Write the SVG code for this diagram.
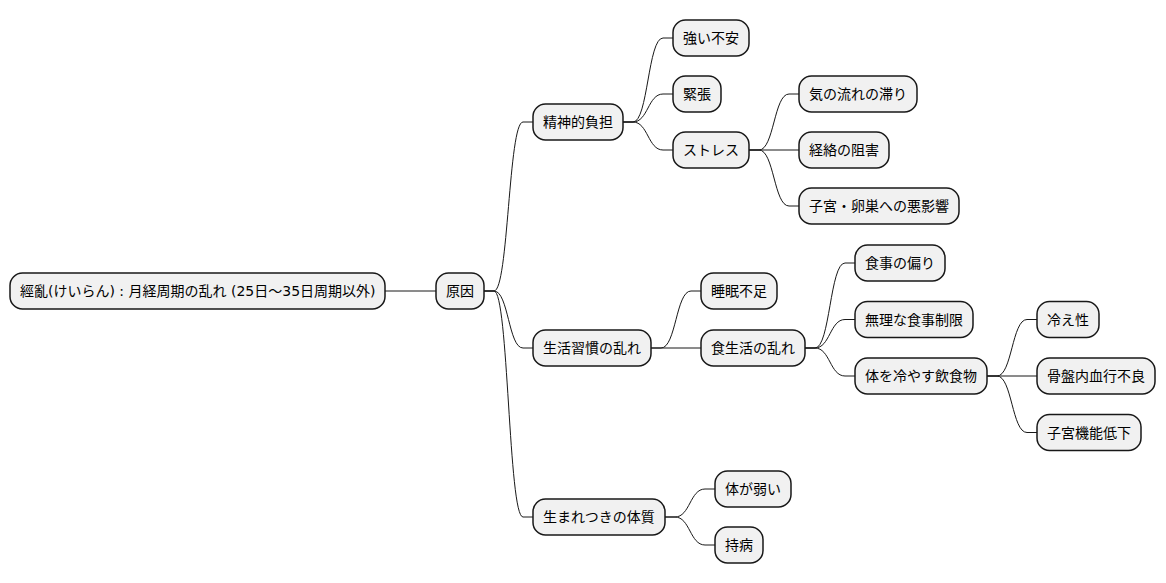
<svg xmlns="http://www.w3.org/2000/svg" width="1166" height="583" viewBox="0 0 1166 583">
<style>
.n rect{fill:#F1F1F1;stroke:#181818;stroke-width:1.5}
.n text{font-family:"DejaVu Sans","Noto Sans CJK JP",sans-serif;font-size:14px;fill:#000}
.c path{fill:none;stroke:#181818;stroke-width:1}
</style>
<rect width="1166" height="583" fill="#FFFFFF"/>
<g class="c" id="connectors">
<path d="M385,291 L436,291"/>
<path d="M484,291 L494,291 C508.5,291 508.5,122 523,122 L533,122"/>
<path d="M484,291 L494,291 C508.5,291 508.5,348 523,348 L533,348"/>
<path d="M484,291 L494,291 C508.5,291 508.5,517 523,517 L533,517"/>
<path d="M623,122 L633,122 C648,122 648,38 663,38 L673,38"/>
<path d="M623,122 L633,122 C648,122 648,94 663,94 L673,94"/>
<path d="M623,122 L633,122 C648,122 648,150 663,150 L673,150"/>
<path d="M749,150 L759,150 C774,150 774,94 789,94 L799,94"/>
<path d="M749,150 L799,150"/>
<path d="M749,150 L759,150 C774,150 774,206 789,206 L799,206"/>
<path d="M651,348 L661,348 C676,348 676,291 691,291 L701,291"/>
<path d="M651,348 L701,348"/>
<path d="M805,348 L815,348 C830,348 830,263 845,263 L855,263"/>
<path d="M805,348 L815,348 C830,348 830,319.5 845,319.5 L855,319.5"/>
<path d="M805,348 L815,348 C830,348 830,376 845,376 L855,376"/>
<path d="M987,376 L997,376 C1012,376 1012,319.5 1027,319.5 L1037,319.5"/>
<path d="M987,376 L1037,376"/>
<path d="M987,376 L997,376 C1012,376 1012,432.5 1027,432.5 L1037,432.5"/>
<path d="M665,517 L675,517 C690,517 690,489 705,489 L715,489"/>
<path d="M665,517 L675,517 C690,517 690,545 705,545 L715,545"/>
</g>
<g class="n" id="root"><rect x="10" y="273" width="375" height="36" rx="12.5"/><text x="20" y="296">經亂(けいらん) : 月経周期の乱れ (25日〜35日周期以外)</text></g>
<g class="n" id="cause"><rect x="436" y="273" width="48" height="36" rx="12.5"/><text x="446" y="296">原因</text></g>
<g class="n" id="mental"><rect x="533" y="104" width="90" height="36" rx="12.5"/><text x="543" y="127">精神的負担</text></g>
<g class="n" id="anxiety"><rect x="673" y="20" width="76" height="36" rx="12.5"/><text x="683" y="43">強い不安</text></g>
<g class="n" id="tension"><rect x="673" y="76" width="48" height="36" rx="12.5"/><text x="683" y="99">緊張</text></g>
<g class="n" id="stress"><rect x="673" y="132" width="76" height="36" rx="12.5"/><text x="683" y="155">ストレス</text></g>
<g class="n" id="qi"><rect x="799" y="76" width="118" height="36" rx="12.5"/><text x="809" y="99">気の流れの滞り</text></g>
<g class="n" id="meridian"><rect x="799" y="132" width="90" height="36" rx="12.5"/><text x="809" y="155">経絡の阻害</text></g>
<g class="n" id="uterus"><rect x="799" y="188" width="160" height="36" rx="12.5"/><text x="809" y="211">子宮・卵巣への悪影響</text></g>
<g class="n" id="lifestyle"><rect x="533" y="330" width="118" height="36" rx="12.5"/><text x="543" y="353">生活習慣の乱れ</text></g>
<g class="n" id="sleep"><rect x="701" y="273" width="76" height="36" rx="12.5"/><text x="711" y="296">睡眠不足</text></g>
<g class="n" id="diet"><rect x="701" y="330" width="104" height="36" rx="12.5"/><text x="711" y="353">食生活の乱れ</text></g>
<g class="n" id="bias"><rect x="855" y="245" width="90" height="36" rx="12.5"/><text x="865" y="268">食事の偏り</text></g>
<g class="n" id="restrict"><rect x="855" y="301.5" width="118" height="36" rx="12.5"/><text x="865" y="324.5">無理な食事制限</text></g>
<g class="n" id="cold"><rect x="855" y="358" width="132" height="36" rx="12.5"/><text x="865" y="381">体を冷やす飲食物</text></g>
<g class="n" id="chill"><rect x="1037" y="301.5" width="62" height="36" rx="12.5"/><text x="1047" y="324.5">冷え性</text></g>
<g class="n" id="pelvic"><rect x="1037" y="358" width="118" height="36" rx="12.5"/><text x="1047" y="381">骨盤内血行不良</text></g>
<g class="n" id="uterine"><rect x="1037" y="414.5" width="104" height="36" rx="12.5"/><text x="1047" y="437.5">子宮機能低下</text></g>
<g class="n" id="constitution"><rect x="533" y="499" width="132" height="36" rx="12.5"/><text x="543" y="522">生まれつきの体質</text></g>
<g class="n" id="weak"><rect x="715" y="471" width="76" height="36" rx="12.5"/><text x="725" y="494">体が弱い</text></g>
<g class="n" id="chronic"><rect x="715" y="527" width="48" height="36" rx="12.5"/><text x="725" y="550">持病</text></g>
</svg>
